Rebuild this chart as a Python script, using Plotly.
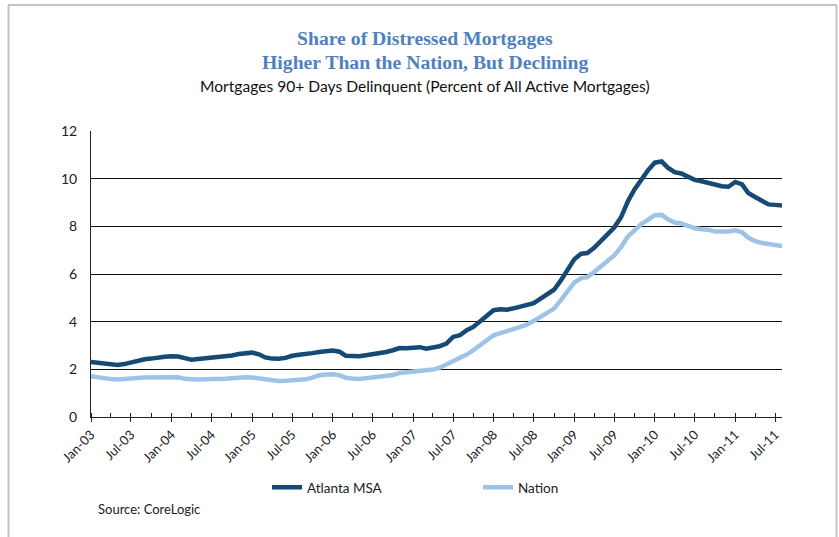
import plotly.graph_objects as go
import pandas as pd

# ---- data (monthly, Jan-2003 .. Aug-2011) ----
start_month = "2003-01-01"
n_months = 104
months = pd.date_range(start_month, periods=n_months, freq="MS")

atlanta_msa = [
    2.31, 2.27, 2.22, 2.21, 2.18, 2.22, 2.30, 2.37, 2.42, 2.45, 2.50, 2.53,
    2.55, 2.54, 2.47, 2.40, 2.43, 2.46, 2.47, 2.49, 2.52, 2.58, 2.64, 2.69,
    2.70, 2.63, 2.50, 2.45, 2.44, 2.48, 2.57, 2.61, 2.63, 2.68, 2.73, 2.77,
    2.79, 2.74, 2.57, 2.56, 2.55, 2.59, 2.63, 2.68, 2.73, 2.80, 2.89, 2.88,
    2.91, 2.93, 2.87, 2.90, 2.97, 3.08, 3.36, 3.43, 3.64, 3.78, 4.01, 4.27,
    4.48, 4.52, 4.50, 4.56, 4.62, 4.69, 4.78, 4.97, 5.15, 5.34, 5.73, 6.15,
    6.62, 6.85, 6.88, 7.10, 7.37, 7.65, 7.95, 8.38, 9.05, 9.55, 10.00, 10.35,
    10.67, 10.72, 10.46, 10.27, 10.22, 10.08, 9.95, 9.89, 9.82, 9.74, 9.68, 9.66,
    9.86, 9.76, 9.40, 9.23, 9.06, 8.92, 8.90, 8.87,
]

nation = [
    1.71, 1.66, 1.61, 1.59, 1.57, 1.58, 1.61, 1.64, 1.66, 1.67, 1.68, 1.69,
    1.69, 1.67, 1.60, 1.57, 1.57, 1.58, 1.58, 1.59, 1.61, 1.63, 1.66, 1.67,
    1.66, 1.62, 1.55, 1.51, 1.51, 1.52, 1.54, 1.56, 1.58, 1.65, 1.75, 1.78,
    1.79, 1.75, 1.65, 1.62, 1.60, 1.63, 1.66, 1.69, 1.72, 1.76, 1.85, 1.88,
    1.92, 1.92, 1.96, 1.99, 2.07, 2.20, 2.35, 2.45, 2.62, 2.80, 3.03, 3.24,
    3.43, 3.52, 3.59, 3.68, 3.78, 3.87, 4.01, 4.20, 4.38, 4.55, 4.90, 5.24,
    5.64, 5.83, 5.87, 6.08, 6.32, 6.55, 6.78, 7.13, 7.57, 7.83, 8.10, 8.27,
    8.47, 8.48, 8.30, 8.16, 8.12, 8.02, 7.92, 7.88, 7.86, 7.78, 7.76, 7.78,
    7.83, 7.75, 7.52, 7.38, 7.30, 7.24, 7.20, 7.17,
]

series_names = ["Atlanta MSA", "Nation"]
title_lines = ["Share of Distressed Mortgages", "Higher Than the Nation, But Declining"]
subtitle = "Mortgages 90+ Days Delinquent (Percent of All Active Mortgages)"
source_text = "Source: CoreLogic"
y_ticks = [0, 2, 4, 6, 8, 10, 12]

# ---- layout geometry (pixels) ----
W, H = 839, 537
PL, PR, PT, PB = 91, 782, 131, 417


def fx(px):
    return (px - PL) / (PR - PL)


def fy(py):
    return (PB - py) / (PB - PT)


DARK = "#164a74"
LIGHT = "#9fc3e7"
TITLE_BLUE = "#4f81bd"

fig = go.Figure()
fig.add_trace(go.Scatter(x=months, y=atlanta_msa, name=series_names[0], mode="lines",
                         line=dict(color=DARK, width=4.5)))
fig.add_trace(go.Scatter(x=months, y=nation, name=series_names[1], mode="lines",
                         line=dict(color=LIGHT, width=4.5)))

fig.update_layout(
    width=W, height=H,
    margin=dict(l=PL, r=W - PR, t=PT, b=H - PB, pad=0),
    paper_bgcolor="white", plot_bgcolor="white",
    font=dict(family="Lato", size=12, color="#222"),
    showlegend=True,
    legend=dict(orientation="h", x=fx(267), y=fy(472), xanchor="left", yanchor="top",
                entrywidth=166, entrywidthmode="pixels", itemwidth=30,
                font=dict(family="Lato", size=13.5, color="#222"),
                bgcolor="rgba(0,0,0,0)", tracegroupgap=0),
    xaxis=dict(
        type="date",
        range=[months[0], months[-1]],
        dtick="M6", tick0=start_month, tickformat="%b-%y", tickangle=-45,
        ticks="outside", ticklen=4, tickcolor="#222", tickwidth=1,
        minor=dict(dtick="M3", ticks="inside", ticklen=4, tickcolor="#222", showgrid=False),
        showline=True, linecolor="#222", linewidth=1,
        showgrid=False, zeroline=False,
        tickfont=dict(family="Lato", size=13, color="#222"),
    ),
    yaxis=dict(
        range=[0, 12], tickvals=y_ticks, ticks="",
        showline=True, linecolor="#222", linewidth=1,
        showgrid=True, gridcolor="#111", gridwidth=1, zeroline=False,
        tickfont=dict(family="Lato", size=14, color="#222"),
        ticklabelstandoff=10,
    ),
)

# titles
fig.add_annotation(text="<b>" + title_lines[0] + "</b>", xref="paper", yref="paper",
                   x=fx(425), y=fy(38), showarrow=False, xanchor="center", yanchor="middle",
                   font=dict(family="Liberation Serif", size=19.7, color=TITLE_BLUE))
fig.add_annotation(text="<b>" + title_lines[1] + "</b>", xref="paper", yref="paper",
                   x=fx(425), y=fy(62), showarrow=False, xanchor="center", yanchor="middle",
                   font=dict(family="Liberation Serif", size=19.7, color=TITLE_BLUE))
fig.add_annotation(text=subtitle, xref="paper", yref="paper",
                   x=fx(425), y=fy(86), showarrow=False, xanchor="center", yanchor="middle",
                   font=dict(family="Lato", size=15.6, color="#111"))
fig.add_annotation(text=source_text, xref="paper", yref="paper",
                   x=fx(96), y=fy(509), showarrow=False, xanchor="left", yanchor="middle",
                   font=dict(family="Lato", size=13, color="#222"))

# outer frame
frame = dict(type="line", xref="paper", yref="paper", line=dict(color="#c4c4c4", width=2))
fig.add_shape(**frame, x0=fx(8), x1=fx(837), y0=fy(5), y1=fy(5))
fig.add_shape(**frame, x0=fx(8.5), x1=fx(8.5), y0=fy(5), y1=fy(537))
fig.add_shape(**frame, x0=fx(836.5), x1=fx(836.5), y0=fy(5), y1=fy(537))

fig.write_html("out.html", config={"displayModeBar": False},
               post_script="document.body.style.margin='0';")
